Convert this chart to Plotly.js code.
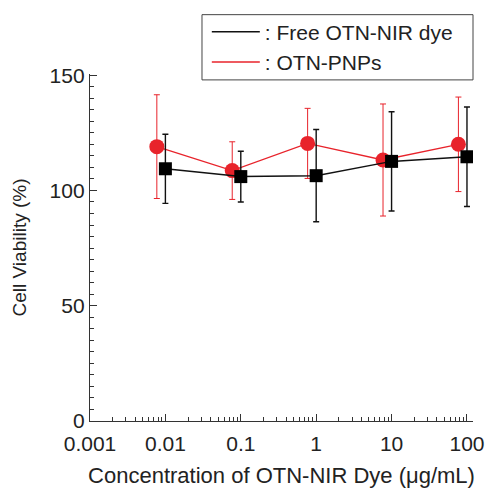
<!DOCTYPE html>
<html>
<head>
<meta charset="utf-8">
<script src="https://cdn.plot.ly/plotly-3.0.1.min.js"></script>
<style>html,body{margin:0;padding:0;background:#fff;}#chart{width:485px;height:488px;}</style>
</head>
<body>
<div id="chart"></div>
<script>
// Data
const concBlack = [0.01, 0.1, 1, 10, 100];
const concRed = [0.0077, 0.077, 0.77, 7.7, 77];
const viabilityFree = [109.4, 106.0, 106.4, 112.6, 114.6];
const errorFree = [15, 11, 20, 21.5, 21.6];
const viabilityPNP = [119.0, 108.6, 120.4, 113.2, 120.0];
const errorPNP = [22.5, 12.5, 15.2, 24.3, 20.5];
const seriesNames = [': Free OTN-NIR dye', ': OTN-PNPs'];
const xTickVals = [0.001, 0.01, 0.1, 1, 10, 100];
const xTickText = ['0.001', '0.01', '0.1', '1', '10', '100'];
const xMinorTickVals = [
  0.002, 0.003, 0.004, 0.005, 0.006, 0.007, 0.008, 0.009,
  0.02, 0.03, 0.04, 0.05, 0.06, 0.07, 0.08, 0.09,
  0.2, 0.3, 0.4, 0.5, 0.6, 0.7, 0.8, 0.9,
  2, 3, 4, 5, 6, 7, 8, 9,
  20, 30, 40, 50, 60, 70, 80, 90
];
const yTickVals = [0, 50, 100, 150];

const RED = '#e8232b';
const BLACK = '#111';
const FONT = 'Liberation Sans, Arial, sans-serif';

const traces = [
  {
    x: concRed, y: viabilityPNP, name: seriesNames[1], type: 'scatter', mode: 'lines+markers',
    line: {color: RED, width: 1.3},
    marker: {symbol: 'circle', size: 15, color: RED},
    error_y: {type: 'data', array: errorPNP, visible: true, color: RED, thickness: 1, width: 3},
    showlegend: false
  },
  {
    x: concBlack, y: viabilityFree, name: seriesNames[0], type: 'scatter', mode: 'lines+markers',
    line: {color: BLACK, width: 1.5},
    marker: {symbol: 'square', size: 13, color: '#000'},
    error_y: {type: 'data', array: errorFree, visible: true, color: BLACK, thickness: 1.4, width: 3},
    showlegend: false
  },
  // legend-only entries (lines without markers, as in the reference)
  {x: [null], y: [null], name: seriesNames[0], type: 'scatter', mode: 'lines', line: {color: BLACK, width: 1.5}, showlegend: true},
  {x: [null], y: [null], name: seriesNames[1], type: 'scatter', mode: 'lines', line: {color: RED, width: 1.3}, showlegend: true}
];

const layout = {
  width: 485, height: 488,
  margin: {l: 90, r: 12, t: 71, b: 67},
  paper_bgcolor: '#fff', plot_bgcolor: '#fff',
  font: {family: FONT, color: '#222', size: 21},
  showlegend: true,
  legend: {
    x: 0.305, xanchor: 'left', y: 1.18, yanchor: 'top',
    borderwidth: 0, bgcolor: 'rgba(0,0,0,0)',
    font: {family: FONT, size: 21, color: '#222'},
    itemwidth: 48, tracegroupgap: 0
  },
  shapes: [{
    type: 'rect', xref: 'paper', yref: 'paper',
    x0: 0.2924, x1: 1.0, y0: 0.983, y1: 1.171,
    line: {color: '#444', width: 1}, fillcolor: 'rgba(0,0,0,0)', layer: 'below'
  }],
  xaxis: {
    type: 'log', range: [-3, 2.08],
    tickvals: xTickVals, ticktext: xTickText,
    ticks: 'inside', ticklen: 7, tickcolor: '#333', tickwidth: 1,
    ticklabelstandoff: 4,
    minor: {ticks: 'inside', ticklen: 4, tickcolor: '#333', tickmode: 'array', tickvals: xMinorTickVals, showgrid: false},
    showline: true, linecolor: '#333', linewidth: 1.2,
    showgrid: false, zeroline: false,
    tickfont: {size: 21, family: FONT, color: '#222'},
    title: {text: 'Concentration of OTN-NIR Dye (μg/mL)', font: {size: 22, family: FONT, color: '#222'}, standoff: 13}
  },
  yaxis: {
    range: [0, 150.5],
    tickvals: yTickVals,
    ticks: 'inside', ticklen: 7, tickcolor: '#333', tickwidth: 1,
    minor: {ticks: 'inside', ticklen: 4, tickcolor: '#333', dtick: 5, showgrid: false},
    showline: true, linecolor: '#333', linewidth: 1.2,
    showgrid: false, zeroline: false,
    tickfont: {size: 21, family: FONT, color: '#222'},
    title: {text: 'Cell Viability (%)', font: {size: 19, family: FONT, color: '#222'}, standoff: 18}
  }
};

Plotly.newPlot('chart', traces, layout, {displayModeBar: false, staticPlot: true});
</script>
</body>
</html>
